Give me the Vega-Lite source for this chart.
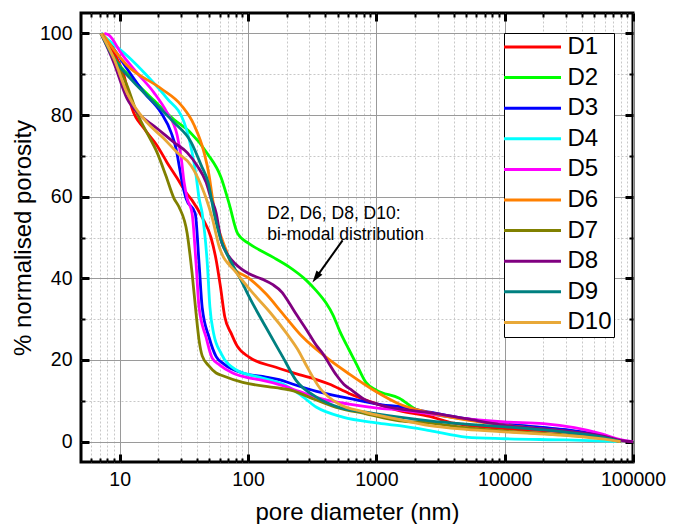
{
  "$schema": "https://vega.github.io/schema/vega-lite/v6.json",
  "width": 552,
  "height": 449,
  "autosize": {"type": "none"},
  "padding": {"left": 81, "top": 13, "right": 48, "bottom": 62},
  "background": "white",
  "config": {
    "view": {"stroke": "black", "strokeWidth": 3},
    "font": "Liberation Sans",
    "axis": {"labelFont": "Liberation Sans", "titleFont": "Liberation Sans", "labelColor": "black", "titleColor": "black", "titleFontWeight": "normal", "domain": false}
  },
  "datasets": {
    "curves": [
      {"s":"D1","d":7.15,"p":100},{"s":"D1","d":7.5,"p":98.8},{"s":"D1","d":9.0,"p":95.3},{"s":"D1","d":10.8,"p":89.7},{"s":"D1","d":12.5,"p":81.6},{"s":"D1","d":15.5,"p":76.7},{"s":"D1","d":19.6,"p":72.5},{"s":"D1","d":23.4,"p":68.4},{"s":"D1","d":28.1,"p":64.5},{"s":"D1","d":32.9,"p":61.0},{"s":"D1","d":36.7,"p":59.1},{"s":"D1","d":44.0,"p":54.9},{"s":"D1","d":51.5,"p":50.0},{"s":"D1","d":56.5,"p":44.5},{"s":"D1","d":61,"p":38},{"s":"D1","d":66,"p":30.5},{"s":"D1","d":74,"p":26.5},{"s":"D1","d":82,"p":23.5},{"s":"D1","d":102,"p":20.7},{"s":"D1","d":165,"p":18.2},{"s":"D1","d":250,"p":16.4},{"s":"D1","d":342,"p":15.2},{"s":"D1","d":428,"p":14.1},{"s":"D1","d":613,"p":11.8},{"s":"D1","d":1000,"p":9.3},{"s":"D1","d":1510,"p":7.6},{"s":"D1","d":2600,"p":6.2},{"s":"D1","d":4000,"p":4.5},{"s":"D1","d":10000,"p":3.2},{"s":"D1","d":30000,"p":2.3},{"s":"D1","d":60000,"p":1.0},{"s":"D1","d":80000,"p":0},
      {"s":"D2","d":7.15,"p":100},{"s":"D2","d":9.0,"p":94.1},{"s":"D2","d":12.9,"p":88.5},{"s":"D2","d":18.5,"p":83.6},{"s":"D2","d":26.5,"p":78.9},{"s":"D2","d":34.8,"p":76.0},{"s":"D2","d":48.2,"p":70.6},{"s":"D2","d":61.7,"p":64.7},{"s":"D2","d":71.3,"p":58.3},{"s":"D2","d":83,"p":51.0},{"s":"D2","d":102,"p":48.5},{"s":"D2","d":122,"p":47.0},{"s":"D2","d":160,"p":45},{"s":"D2","d":209,"p":42.8},{"s":"D2","d":285,"p":39.5},{"s":"D2","d":340,"p":37},{"s":"D2","d":405,"p":34},{"s":"D2","d":460,"p":31},{"s":"D2","d":520,"p":27},{"s":"D2","d":613,"p":22.5},{"s":"D2","d":700,"p":19},{"s":"D2","d":830,"p":14.5},{"s":"D2","d":1000,"p":12.6},{"s":"D2","d":1510,"p":10.6},{"s":"D2","d":2060,"p":7.8},{"s":"D2","d":2600,"p":6.9},{"s":"D2","d":5000,"p":5.5},{"s":"D2","d":10000,"p":4.3},{"s":"D2","d":30000,"p":2.8},{"s":"D2","d":60000,"p":1.2},{"s":"D2","d":80000,"p":0},
      {"s":"D3","d":7.15,"p":100},{"s":"D3","d":8.6,"p":97.1},{"s":"D3","d":11.4,"p":91.4},{"s":"D3","d":15.5,"p":85.5},{"s":"D3","d":21.0,"p":80.6},{"s":"D3","d":25.2,"p":75.7},{"s":"D3","d":27.5,"p":71.8},{"s":"D3","d":29.1,"p":67.6},{"s":"D3","d":30.7,"p":63.5},{"s":"D3","d":32.9,"p":59.6},{"s":"D3","d":38.8,"p":55.9},{"s":"D3","d":41.6,"p":43.6},{"s":"D3","d":44.0,"p":32.8},{"s":"D3","d":49.8,"p":25.5},{"s":"D3","d":56.5,"p":20.8},{"s":"D3","d":65,"p":19.0},{"s":"D3","d":91,"p":16.8},{"s":"D3","d":138,"p":15.8},{"s":"D3","d":175,"p":15.2},{"s":"D3","d":222,"p":14.1},{"s":"D3","d":342,"p":12.3},{"s":"D3","d":613,"p":10.6},{"s":"D3","d":1110,"p":9.0},{"s":"D3","d":1510,"p":8.6},{"s":"D3","d":2600,"p":7.2},{"s":"D3","d":5000,"p":5.6},{"s":"D3","d":10000,"p":4.3},{"s":"D3","d":30000,"p":2.9},{"s":"D3","d":60000,"p":1.3},{"s":"D3","d":80000,"p":0},
      {"s":"D4","d":7.15,"p":100},{"s":"D4","d":7.9,"p":98.8},{"s":"D4","d":11.4,"p":94.6},{"s":"D4","d":16.3,"p":89.7},{"s":"D4","d":23.4,"p":84.1},{"s":"D4","d":31.8,"p":78.2},{"s":"D4","d":36.7,"p":70.8},{"s":"D4","d":39.4,"p":65.2},{"s":"D4","d":41.6,"p":59.6},{"s":"D4","d":44.0,"p":55.9},{"s":"D4","d":48.2,"p":43.6},{"s":"D4","d":50.5,"p":33},{"s":"D4","d":54,"p":26.5},{"s":"D4","d":62,"p":21.5},{"s":"D4","d":80.5,"p":17.6},{"s":"D4","d":122,"p":15.8},{"s":"D4","d":187,"p":14.1},{"s":"D4","d":250,"p":11.7},{"s":"D4","d":342,"p":8.4},{"s":"D4","d":548,"p":6.0},{"s":"D4","d":1000,"p":4.6},{"s":"D4","d":1510,"p":3.9},{"s":"D4","d":2600,"p":2.7},{"s":"D4","d":5000,"p":1.1},{"s":"D4","d":10000,"p":0.7},{"s":"D4","d":30000,"p":0.4},{"s":"D4","d":80000,"p":0},
      {"s":"D5","d":7.6,"p":100},{"s":"D5","d":8.3,"p":99.5},{"s":"D5","d":10.2,"p":95.3},{"s":"D5","d":13.6,"p":90.4},{"s":"D5","d":18.5,"p":85.5},{"s":"D5","d":23.4,"p":80.6},{"s":"D5","d":28.1,"p":75},{"s":"D5","d":30.2,"p":69.4},{"s":"D5","d":31.8,"p":63.5},{"s":"D5","d":33.6,"p":59.6},{"s":"D5","d":36.7,"p":55.9},{"s":"D5","d":39.4,"p":43.6},{"s":"D5","d":41.6,"p":32.8},{"s":"D5","d":47.2,"p":25.5},{"s":"D5","d":52.5,"p":20.5},{"s":"D5","d":60,"p":18.8},{"s":"D5","d":76,"p":16.8},{"s":"D5","d":102,"p":15.6},{"s":"D5","d":122,"p":15.2},{"s":"D5","d":187,"p":13.7},{"s":"D5","d":250,"p":12.3},{"s":"D5","d":405,"p":10.2},{"s":"D5","d":613,"p":9.2},{"s":"D5","d":1110,"p":8.1},{"s":"D5","d":1510,"p":7.8},{"s":"D5","d":2600,"p":6.8},{"s":"D5","d":5000,"p":5.6},{"s":"D5","d":10000,"p":4.8},{"s":"D5","d":20000,"p":4.4},{"s":"D5","d":35000,"p":3.4},{"s":"D5","d":55000,"p":2.0},{"s":"D5","d":80000,"p":0.5},{"s":"D5","d":100000,"p":0},
      {"s":"D6","d":7.3,"p":100},{"s":"D6","d":11.4,"p":92.2},{"s":"D6","d":21.0,"p":86.5},{"s":"D6","d":30.2,"p":82.4},{"s":"D6","d":38.1,"p":77.5},{"s":"D6","d":45.5,"p":70.8},{"s":"D6","d":49.8,"p":65.2},{"s":"D6","d":52.5,"p":60.3},{"s":"D6","d":56.5,"p":54.2},{"s":"D6","d":62,"p":50},{"s":"D6","d":67.8,"p":46.8},{"s":"D6","d":75.8,"p":42.7},{"s":"D6","d":102,"p":40.0},{"s":"D6","d":138,"p":36.2},{"s":"D6","d":187,"p":31.3},{"s":"D6","d":267,"p":25.6},{"s":"D6","d":405,"p":20.7},{"s":"D6","d":613,"p":16.6},{"s":"D6","d":1000,"p":12.2},{"s":"D6","d":1510,"p":9.2},{"s":"D6","d":2600,"p":7.1},{"s":"D6","d":5000,"p":5.3},{"s":"D6","d":10000,"p":4.0},{"s":"D6","d":30000,"p":2.5},{"s":"D6","d":60000,"p":1.0},{"s":"D6","d":80000,"p":0},
      {"s":"D7","d":7.15,"p":100},{"s":"D7","d":7.5,"p":98.8},{"s":"D7","d":9.0,"p":93.9},{"s":"D7","d":11.4,"p":87.3},{"s":"D7","d":13.6,"p":80.6},{"s":"D7","d":16.3,"p":75.7},{"s":"D7","d":19.6,"p":70.8},{"s":"D7","d":22.9,"p":65.2},{"s":"D7","d":26.5,"p":59.6},{"s":"D7","d":29.1,"p":57.4},{"s":"D7","d":33.6,"p":51.0},{"s":"D7","d":36.7,"p":41.2},{"s":"D7","d":39.4,"p":31.4},{"s":"D7","d":41.6,"p":24.8},{"s":"D7","d":44,"p":21},{"s":"D7","d":49.8,"p":18.5},{"s":"D7","d":56.5,"p":16.8},{"s":"D7","d":62.8,"p":16.2},{"s":"D7","d":91,"p":14.5},{"s":"D7","d":165,"p":13.2},{"s":"D7","d":222,"p":12.5},{"s":"D7","d":299,"p":10.9},{"s":"D7","d":488,"p":8.4},{"s":"D7","d":832,"p":6.8},{"s":"D7","d":1510,"p":5.1},{"s":"D7","d":2600,"p":4.6},{"s":"D7","d":5000,"p":3.4},{"s":"D7","d":10000,"p":2.6},{"s":"D7","d":30000,"p":1.6},{"s":"D7","d":60000,"p":0.8},{"s":"D7","d":80000,"p":0},
      {"s":"D8","d":7.15,"p":100},{"s":"D8","d":9.0,"p":92.9},{"s":"D8","d":11.4,"p":84.1},{"s":"D8","d":14.6,"p":79.9},{"s":"D8","d":19.6,"p":76.7},{"s":"D8","d":26.5,"p":73.3},{"s":"D8","d":33.6,"p":70.8},{"s":"D8","d":40.2,"p":67.6},{"s":"D8","d":47.2,"p":63.5},{"s":"D8","d":51.5,"p":59.6},{"s":"D8","d":56.5,"p":56.0},{"s":"D8","d":61.7,"p":49.3},{"s":"D8","d":67.4,"p":46.5},{"s":"D8","d":80,"p":43.5},{"s":"D8","d":102,"p":41.1},{"s":"D8","d":129,"p":39.8},{"s":"D8","d":155,"p":38.5},{"s":"D8","d":185,"p":36.5},{"s":"D8","d":209,"p":34.0},{"s":"D8","d":240,"p":31.0},{"s":"D8","d":283,"p":27.6},{"s":"D8","d":342,"p":23.5},{"s":"D8","d":384,"p":21.5},{"s":"D8","d":430,"p":19.0},{"s":"D8","d":488,"p":16.3},{"s":"D8","d":560,"p":14},{"s":"D8","d":650,"p":12.5},{"s":"D8","d":800,"p":10.4},{"s":"D8","d":1000,"p":9.2},{"s":"D8","d":1510,"p":8.0},{"s":"D8","d":2600,"p":7.1},{"s":"D8","d":5000,"p":5.6},{"s":"D8","d":10000,"p":4.0},{"s":"D8","d":30000,"p":2.6},{"s":"D8","d":60000,"p":1.3},{"s":"D8","d":80000,"p":0.3},{"s":"D8","d":100000,"p":0},
      {"s":"D9","d":7.15,"p":100},{"s":"D9","d":9.0,"p":93.9},{"s":"D9","d":12.9,"p":88.0},{"s":"D9","d":18.5,"p":83.1},{"s":"D9","d":26.5,"p":78.2},{"s":"D9","d":36.1,"p":73.3},{"s":"D9","d":43.3,"p":67.6},{"s":"D9","d":48.9,"p":63.5},{"s":"D9","d":54.5,"p":55.9},{"s":"D9","d":61.7,"p":49.3},{"s":"D9","d":75.2,"p":43.6},{"s":"D9","d":90,"p":39},{"s":"D9","d":102,"p":35.5},{"s":"D9","d":138,"p":28.0},{"s":"D9","d":187,"p":20.7},{"s":"D9","d":237,"p":15.0},{"s":"D9","d":342,"p":10.9},{"s":"D9","d":512,"p":8.4},{"s":"D9","d":832,"p":7.2},{"s":"D9","d":1510,"p":6.0},{"s":"D9","d":2600,"p":5.1},{"s":"D9","d":5000,"p":4.3},{"s":"D9","d":10000,"p":3.6},{"s":"D9","d":30000,"p":2.3},{"s":"D9","d":60000,"p":1.0},{"s":"D9","d":80000,"p":0},
      {"s":"D10","d":7.15,"p":100},{"s":"D10","d":9.0,"p":93.9},{"s":"D10","d":11.4,"p":85.5},{"s":"D10","d":12.9,"p":82.4},{"s":"D10","d":16.3,"p":78.2},{"s":"D10","d":22.0,"p":74.3},{"s":"D10","d":28.1,"p":70.8},{"s":"D10","d":36.1,"p":67.6},{"s":"D10","d":43.3,"p":62.7},{"s":"D10","d":47.2,"p":59.6},{"s":"D10","d":52.5,"p":54.9},{"s":"D10","d":60,"p":47.5},{"s":"D10","d":80.5,"p":41.5},{"s":"D10","d":112,"p":36},{"s":"D10","d":150,"p":31.5},{"s":"D10","d":200,"p":26.5},{"s":"D10","d":245,"p":22.5},{"s":"D10","d":290,"p":18.2},{"s":"D10","d":365,"p":13.0},{"s":"D10","d":512,"p":9.2},{"s":"D10","d":800,"p":7.3},{"s":"D10","d":1400,"p":5.6},{"s":"D10","d":2600,"p":3.9},{"s":"D10","d":5000,"p":3.0},{"s":"D10","d":10000,"p":2.4},{"s":"D10","d":30000,"p":1.5},{"s":"D10","d":60000,"p":0.6},{"s":"D10","d":80000,"p":0}
    ]
  },
  "layer": [
    {
      "data": {"name": "curves"},
      "mark": {"type": "line", "strokeWidth": 2.8, "interpolate": "monotone"},
      "encoding": {
        "x": {
          "field": "d", "type": "quantitative",
          "scale": {"type": "log", "domain": [5, 100000], "nice": false},
          "axis": {
            "orient": "bottom",
            "title": "pore diameter (nm)",
            "titleFontSize": 24,
            "titlePadding": 8,
            "values": [6,7,8,9,10,20,30,40,50,60,70,80,90,100,200,300,400,500,600,700,800,900,1000,2000,3000,4000,5000,6000,7000,8000,9000,10000,20000,30000,40000,50000,60000,70000,80000,90000,100000],
            "labelExpr": "indexof([10,100,1000,10000,100000], datum.value) >= 0 ? format(datum.value, 'd') : ''",
            "labelFontSize": 19.5,
            "labelOverlap": false,
            "labelFlush": false,
            "labelBound": false,
            "labelPadding": 16,
            "grid": true,
            "gridColor": {"condition": {"test": "indexof([10,100,1000,10000,100000], datum.value) >= 0", "value": "#9a9a9a"}, "value": "#c8c8c8"},
            "gridDash": {"condition": {"test": "indexof([10,100,1000,10000,100000], datum.value) >= 0", "value": []}, "value": [2, 2]},
            "gridWidth": 1,
            "ticks": true,
            "tickColor": "black",
            "tickSize": {"condition": {"test": "indexof([10,100,1000,10000,100000], datum.value) >= 0", "value": -8}, "value": -4},
            "tickWidth": {"condition": {"test": "indexof([10,100,1000,10000,100000], datum.value) >= 0", "value": 3}, "value": 2}
          }
        },
        "y": {
          "field": "p", "type": "quantitative",
          "scale": {"domain": [-5, 105], "nice": false, "zero": false},
          "axis": {
            "orient": "left",
            "title": "% normalised porosity",
            "titleFontSize": 24,
            "titlePadding": 4,
            "values": [0,10,20,30,40,50,60,70,80,90,100],
            "labelExpr": "datum.value % 20 === 0 ? datum.label : ''",
            "labelFontSize": 19.5,
            "labelOverlap": false,
            "labelFlush": false,
            "labelBound": false,
            "labelPadding": 17,
            "grid": true,
            "gridColor": {"condition": {"test": "datum.value % 20 === 0", "value": "#9a9a9a"}, "value": "#c8c8c8"},
            "gridDash": {"condition": {"test": "datum.value % 20 === 0", "value": []}, "value": [2, 2]},
            "gridWidth": 1,
            "ticks": true,
            "tickColor": "black",
            "tickSize": {"condition": {"test": "datum.value % 20 === 0", "value": -8}, "value": -4},
            "tickWidth": {"condition": {"test": "datum.value % 20 === 0", "value": 3}, "value": 2}
          }
        },
        "color": {
          "field": "s", "type": "nominal",
          "scale": {
            "domain": ["D1","D2","D3","D4","D5","D6","D7","D8","D9","D10"],
            "range": ["#ff0000","#00ff00","#0000ff","#00ffff","#ff00ff","#ff8000","#808000","#800080","#008080","#e8a838"]
          },
          "legend": {
            "orient": "none",
            "legendX": 423,
            "legendY": 20,
            "title": null,
            "symbolType": "M-5.7,0H5.7",
            "symbolSize": 100,
            "symbolStrokeWidth": 3,
            "symbolOffset": 14.5,
            "labelOffset": 23,
            "labelFontSize": 24,
            "labelFont": "Liberation Sans",
            "labelColor": "black",
            "rowPadding": 6.6,
            "padding": 2,
            "strokeColor": "black",
            "fillColor": "white"
          }
        }
      }
    },
    {
      "data": {"values": [{}]},
      "mark": {"type": "text", "align": "left", "baseline": "alphabetic", "fontSize": 17.5, "font": "Liberation Sans", "color": "black", "lineBreak": "\n", "lineHeight": 20.5, "text": "D2, D6, D8, D10:\nbi-modal distribution"},
      "encoding": {
        "x": {"datum": 141.5, "type": "quantitative", "axis": null},
        "y": {"datum": 54.5, "type": "quantitative", "axis": null}
      }
    },
    {
      "data": {"values": [{}]},
      "mark": {"type": "rule", "strokeWidth": 2, "color": "black"},
      "encoding": {
        "x": {"datum": 546, "type": "quantitative",
          "axis": {
            "orient": "top", "title": null, "labels": false, "grid": false,
            "values": [6,7,8,9,10,20,30,40,50,60,70,80,90,100,200,300,400,500,600,700,800,900,1000,2000,3000,4000,5000,6000,7000,8000,9000,10000,20000,30000,40000,50000,60000,70000,80000,90000,100000],
            "tickColor": "black",
            "tickSize": {"condition": {"test": "indexof([10,100,1000,10000,100000], datum.value) >= 0", "value": -8}, "value": -4},
            "tickWidth": {"condition": {"test": "indexof([10,100,1000,10000,100000], datum.value) >= 0", "value": 3}, "value": 2}
          }
        },
        "y": {"datum": 49.3, "type": "quantitative",
          "axis": {
            "orient": "right", "title": null, "labels": false, "grid": false,
            "values": [0,10,20,30,40,50,60,70,80,90,100],
            "tickColor": "black",
            "tickSize": {"condition": {"test": "datum.value % 20 === 0", "value": -8}, "value": -4},
            "tickWidth": {"condition": {"test": "datum.value % 20 === 0", "value": 3}, "value": 2}
          }
        },
        "x2": {"datum": 350},
        "y2": {"datum": 40.8}
      }
    },
    {
      "data": {"values": [{}]},
      "mark": {"type": "point", "shape": "M0,0L-0.6,2L0.6,2Z", "filled": true, "color": "black", "size": 144, "angle": 215.5, "opacity": 1},
      "encoding": {
        "x": {"datum": 318, "type": "quantitative", "axis": null},
        "y": {"datum": 39, "type": "quantitative", "axis": null}
      }
    }
  ],
  "resolve": {"axis": {"x": "independent", "y": "independent"}}
}
